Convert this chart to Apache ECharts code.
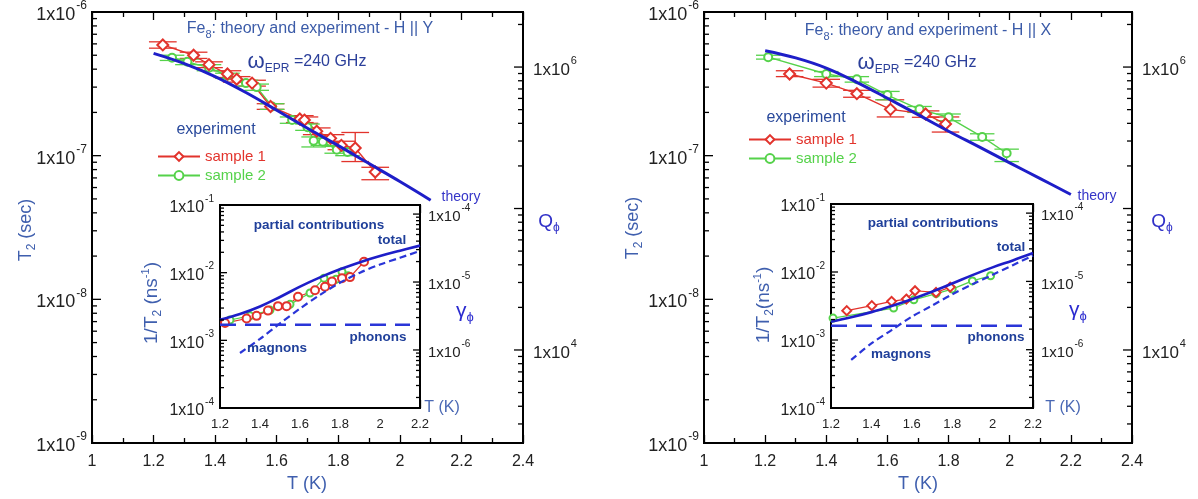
<!DOCTYPE html>
<html><head><meta charset="utf-8">
<script src="https://cdn.jsdelivr.net/npm/echarts@6/dist/echarts.min.js"></script>
<style>html,body{margin:0;padding:0;background:#fff}#c{width:1198px;height:499px}</style>
</head><body><div id="c"></div>
<script>
// ================= DATA =================
// ---- Left panel: H || Y ----
const Y_theoryT  = [1.2, 1.3, 1.4, 1.5, 1.6, 1.7, 1.8, 1.9, 2.0, 2.1];
const Y_theoryT2 = [5.15e-7, 4.37e-7, 3.55e-7, 2.75e-7, 2.07e-7, 1.55e-7, 1.175e-7, 8.81e-8, 6.61e-8, 4.9e-8];
const Y_s1T  = [1.23, 1.33, 1.38, 1.44, 1.47, 1.52, 1.58, 1.675, 1.69, 1.73, 1.775, 1.81, 1.855, 1.92];
const Y_s1V  = [5.9e-7, 5.0e-7, 4.3e-7, 3.7e-7, 3.4e-7, 3.2e-7, 2.2e-7, 1.8e-7, 1.77e-7, 1.48e-7, 1.32e-7, 1.18e-7, 1.13e-7, 7.7e-8];
const Y_s1Lo = [5.6e-7, 4.75e-7, 4.1e-7, 3.5e-7, 3.25e-7, 3.05e-7, 2.1e-7, 1.7e-7, 1.68e-7, 1.4e-7, 1.25e-7, 1.1e-7, 9.1e-8, 6.8e-8];
const Y_s1Hi = [6.2e-7, 5.25e-7, 4.5e-7, 3.9e-7, 3.55e-7, 3.35e-7, 2.3e-7, 1.9e-7, 1.86e-7, 1.56e-7, 1.4e-7, 1.26e-7, 1.45e-7, 8.3e-8];
const Y_s2T  = [1.26, 1.31, 1.38, 1.44, 1.50, 1.535, 1.585, 1.65, 1.70, 1.72, 1.75, 1.795, 1.83];
const Y_s2V  = [4.8e-7, 4.5e-7, 4.1e-7, 3.6e-7, 3.2e-7, 3.0e-7, 2.2e-7, 1.77e-7, 1.58e-7, 1.27e-7, 1.25e-7, 1.1e-7, 1.06e-7];
const Y_s2Lo = [4.6e-7, 4.3e-7, 3.9e-7, 3.45e-7, 3.05e-7, 2.85e-7, 2.1e-7, 1.68e-7, 1.5e-7, 1.15e-7, 1.18e-7, 1.04e-7, 1.0e-7];
const Y_s2Hi = [5.0e-7, 4.7e-7, 4.3e-7, 3.75e-7, 3.35e-7, 3.15e-7, 2.3e-7, 1.86e-7, 1.66e-7, 1.35e-7, 1.32e-7, 1.16e-7, 1.12e-7];
// inset (1/T2 in ns^-1)
const Y_inT      = [1.2, 1.3, 1.4, 1.5, 1.6, 1.7, 1.8, 1.9, 2.0, 2.1, 2.2];
const Y_total    = [2.02e-3, 2.45e-3, 3.16e-3, 4.37e-3, 6.21e-3, 8.51e-3, 1.12e-2, 1.43e-2, 1.76e-2, 2.11e-2, 2.51e-2];
const Y_phonT    = [1.2, 2.15];
const Y_phon     = [1.7e-3, 1.7e-3];
const Y_magT     = [1.3, 1.4, 1.5, 1.6, 1.7, 1.8, 1.9, 2.0, 2.1, 2.2];
const Y_mag      = [6.5e-4, 1.05e-3, 1.78e-3, 2.95e-3, 4.7e-3, 7.1e-3, 1.0e-2, 1.32e-2, 1.66e-2, 2.09e-2];
const Y_in1T     = [1.225, 1.333, 1.383, 1.44, 1.49, 1.533, 1.59, 1.675, 1.725, 1.76, 1.81, 1.85, 1.92];
const Y_in1V     = [1.8e-3, 2.1e-3, 2.3e-3, 2.75e-3, 3.2e-3, 3.2e-3, 4.4e-3, 5.5e-3, 6.2e-3, 7.4e-3, 8.3e-3, 8.6e-3, 1.45e-2];
const Y_in2T     = [1.25, 1.35, 1.45, 1.55, 1.65, 1.72, 1.78, 1.81, 1.84];
const Y_in2V     = [2.0e-3, 2.3e-3, 2.8e-3, 3.4e-3, 5.0e-3, 8.3e-3, 8.0e-3, 1.03e-2, 9.0e-3];

// ---- Right panel: H || X ----
const X_theoryT  = [1.2, 1.3, 1.4, 1.5, 1.6, 1.7, 1.8, 1.9, 2.0, 2.1, 2.2];
const X_theoryT2 = [5.37e-7, 4.79e-7, 4.07e-7, 3.24e-7, 2.51e-7, 1.93e-7, 1.48e-7, 1.15e-7, 8.91e-8, 6.92e-8, 5.37e-8];
const X_s1T  = [1.28, 1.40, 1.50, 1.61, 1.725, 1.79];
const X_s1V  = [3.7e-7, 3.2e-7, 2.7e-7, 2.1e-7, 1.95e-7, 1.66e-7];
const X_s1Lo = [3.55e-7, 3.0e-7, 2.55e-7, 1.86e-7, 1.85e-7, 1.46e-7];
const X_s1Hi = [3.9e-7, 3.4e-7, 2.85e-7, 2.45e-7, 2.05e-7, 1.86e-7];
const X_s2T  = [1.21, 1.40, 1.50, 1.60, 1.705, 1.80, 1.91, 1.99];
const X_s2V  = [4.85e-7, 3.7e-7, 3.4e-7, 2.64e-7, 2.1e-7, 1.85e-7, 1.35e-7, 1.04e-7];
const X_s2Lo = [4.7e-7, 3.55e-7, 3.25e-7, 2.45e-7, 2.0e-7, 1.75e-7, 1.28e-7, 9.1e-8];
const X_s2Hi = [5.0e-7, 3.85e-7, 3.55e-7, 2.8e-7, 2.2e-7, 1.95e-7, 1.42e-7, 1.11e-7];
const X_inT      = [1.2, 1.3, 1.4, 1.5, 1.6, 1.7, 1.8, 1.9, 2.0, 2.1, 2.2];
const X_total    = [1.86e-3, 2.16e-3, 2.57e-3, 3.16e-3, 3.98e-3, 5.13e-3, 6.76e-3, 9.0e-3, 1.17e-2, 1.48e-2, 1.9e-2];
const X_phonT    = [1.2, 2.15];
const X_phon     = [1.62e-3, 1.62e-3];
const X_magT     = [1.3, 1.4, 1.5, 1.6, 1.7, 1.8, 1.9, 2.0, 2.1, 2.2];
const X_mag      = [5.1e-4, 8.9e-4, 1.4e-3, 2.2e-3, 3.2e-3, 4.7e-3, 6.6e-3, 9.1e-3, 1.26e-2, 1.74e-2];
const X_in1T     = [1.278, 1.402, 1.50, 1.573, 1.616, 1.72, 1.79];
const X_in1V     = [2.7e-3, 3.2e-3, 3.7e-3, 4.0e-3, 5.3e-3, 5.0e-3, 6.0e-3];
const X_in2T     = [1.21, 1.51, 1.61, 1.72, 1.80, 1.90, 1.99];
const X_in2V     = [2.1e-3, 2.95e-3, 3.9e-3, 4.8e-3, 5.6e-3, 7.4e-3, 8.8e-3];

// axis ranges and labelled decades
const T_main = [1, 2.4], T_inset = [1.2, 2.2];
const T2_range = [1e-9, 1e-6];
const Q_range = [2.2e3, 2.45e6];
const Q_labelExps = [4, 6];
const invT2_range = [1e-4, 1e-1];
const gamma_range = [1.4e-7, 1.36e-4];

// ================= BUILD =================
const F = 'Liberation Sans, Arial, Helvetica, sans-serif';
const RED = '#e2332c', GREEN = '#55d24a', BLUE = '#1e1ec8';
const zip = (a, b) => a.map((v, i) => [v, b[i]]);
const zip3 = (a, b, c) => a.map((v, i) => [v, b[i], c[i]]);

function makePowFmt(only) {
  return function (v) {
    const e = Math.log10(v), r = Math.round(e);
    if (Math.abs(e - r) > 1e-6) return '';
    if (only && only.indexOf(r) < 0) return '';
    return '{b|1x10}{s|' + r + '}';
  };
}
function powRich(fs) {
  return { b: { fontSize: fs, fontFamily: F, color: '#222', lineHeight: fs + 6, verticalAlign: 'bottom' },
           s: { fontSize: Math.round(fs * 0.64), fontFamily: F, color: '#222', lineHeight: fs + 6, verticalAlign: 'top', padding: [0, 0, 0, 1] } };
}
const tickStyle = { color: '#000', width: 1.3 };

function xAx(grid, range, pos, showLabel, fs, margin) {
  return { type: 'value', gridIndex: grid, position: pos, min: range[0], max: range[1], interval: 0.2,
    axisLine: { show: false }, splitLine: { show: false },
    axisTick: { inside: true, length: 8, lineStyle: tickStyle },
    minorTick: { show: true, splitNumber: 2, length: 5, lineStyle: tickStyle },
    axisLabel: { show: showLabel, fontSize: fs, fontFamily: F, color: '#222', margin: margin } };
}
function yAx(grid, range, pos, fs, margin, only) {
  return { type: 'log', logBase: 10, gridIndex: grid, position: pos, min: range[0], max: range[1],
    axisLine: { show: false }, splitLine: { show: false }, axisTick: { show: false },
    axisLabel: { fontSize: fs, margin: margin, formatter: makePowFmt(only), rich: powRich(fs) } };
}
function tickSeries(xi, yi, xEdge, dir, lo, hi, big, small) {
  return { type: 'custom', xAxisIndex: xi, yAxisIndex: yi, silent: true, z: 6, clip: false,
    data: [[xEdge, Math.sqrt(lo * hi)]],
    renderItem: function (params, api) {
      const ch = [];
      for (let d = Math.floor(Math.log10(lo)); d <= Math.ceil(Math.log10(hi)); d++) {
        for (let m = 1; m <= 9; m++) {
          const v = m * Math.pow(10, d);
          if (v < lo * 0.999 || v > hi * 1.001) continue;
          const p = api.coord([xEdge, v]);
          const L = m === 1 ? big : small;
          ch.push({ type: 'line', shape: { x1: p[0], y1: p[1], x2: p[0] + dir * L, y2: p[1] },
                    style: { stroke: '#000', lineWidth: 1.3 } });
        }
      }
      return { type: 'group', children: ch };
    } };
}
function errSeries(xi, yi, data, color, halfW) {
  return { type: 'custom', xAxisIndex: xi, yAxisIndex: yi, silent: true, z: 3,
    data: data, encode: { x: 0, y: [1, 2] },
    renderItem: function (params, api) {
      const T = api.value(0), lo = api.value(1), hi = api.value(2);
      const a = api.coord([T, lo]), b = api.coord([T, hi]);
      const l = api.coord([T - halfW, lo])[0], r = api.coord([T + halfW, lo])[0];
      const st = { stroke: color, lineWidth: 1.3 };
      return { type: 'group', children: [
        { type: 'line', shape: { x1: a[0], y1: a[1], x2: b[0], y2: b[1] }, style: st },
        { type: 'line', shape: { x1: l, y1: a[1], x2: r, y2: a[1] }, style: st },
        { type: 'line', shape: { x1: l, y1: b[1], x2: r, y2: b[1] }, style: st } ] };
    } };
}

const grids = [], xAxes = [], yAxes = [], series = [], graphics = [], legends = [];

function panel(P) {
  const g0 = grids.length;
  grids.push({ left: P.main[0], top: P.main[1], width: P.main[2], height: P.main[3], show: true, borderColor: '#000', borderWidth: 2, backgroundColor: 'transparent' });
  grids.push({ left: P.ins[0], top: P.ins[1], width: P.ins[2], height: P.ins[3], show: true, borderColor: '#000', borderWidth: 2, backgroundColor: '#fff', z: 1 });
  const x0 = xAxes.length;
  xAxes.push(xAx(g0, T_main, 'bottom', true, 16, 11));
  xAxes.push(xAx(g0, T_main, 'top', false, 16, 11));
  xAxes.push(xAx(g0 + 1, T_inset, 'bottom', true, 13, 10));
  xAxes.push(xAx(g0 + 1, T_inset, 'top', false, 13, 10));
  const y0 = yAxes.length;
  yAxes.push(yAx(g0, T2_range, 'left', 18, 5));
  yAxes.push(yAx(g0, Q_range, 'right', 17, 10, Q_labelExps));
  yAxes.push(yAx(g0 + 1, invT2_range, 'left', 16, 6));
  yAxes.push(yAx(g0 + 1, gamma_range, 'right', 15, 8));

  series.push(tickSeries(x0, y0, T_main[0], 1, T2_range[0], T2_range[1], 9, 5));
  series.push(tickSeries(x0, y0 + 1, T_main[1], -1, Q_range[0], Q_range[1], 9, 5));
  series.push(tickSeries(x0 + 2, y0 + 2, T_inset[0], 1, invT2_range[0], invT2_range[1], 7, 4));
  series.push(tickSeries(x0 + 2, y0 + 3, T_inset[1], -1, gamma_range[0], gamma_range[1], 7, 4));

  // main
  series.push(errSeries(x0, y0, zip3(P.s1T, P.s1Lo, P.s1Hi), RED, 0.045));
  series.push(errSeries(x0, y0, zip3(P.s2T, P.s2Lo, P.s2Hi), GREEN, 0.04));
  series.push({ name: 'sample 2', type: 'line', xAxisIndex: x0, yAxisIndex: y0, data: zip(P.s2T, P.s2V),
    symbol: 'emptyCircle', symbolSize: 8, lineStyle: { color: GREEN, width: 1.4 }, itemStyle: { color: GREEN, borderWidth: 1.3 }, z: 3 });
  series.push({ name: 'sample 1', type: 'line', xAxisIndex: x0, yAxisIndex: y0, data: zip(P.s1T, P.s1V),
    symbol: 'emptyDiamond', symbolSize: 11, lineStyle: { color: RED, width: 1.4 }, itemStyle: { color: RED, borderWidth: 1.3 }, z: 3 });
  series.push({ name: 'theory', type: 'line', xAxisIndex: x0, yAxisIndex: y0, data: zip(P.thT, P.thV),
    symbol: 'none', smooth: 0.4, lineStyle: { color: BLUE, width: 3 }, z: 4 });

  // inset
  series.push({ name: 'in2', type: 'line', xAxisIndex: x0 + 2, yAxisIndex: y0 + 2, data: zip(P.in2T, P.in2V),
    symbol: 'emptyCircle', symbolSize: 7, lineStyle: { color: GREEN, width: 1.2 }, itemStyle: { color: GREEN, borderWidth: 1.1 }, z: 3 });
  series.push({ name: 'in1', type: 'line', xAxisIndex: x0 + 2, yAxisIndex: y0 + 2, data: zip(P.in1T, P.in1V),
    symbol: P.in1Sym, symbolSize: P.in1Sym === 'emptyDiamond' ? 9 : 8, lineStyle: { color: RED, width: 1.2 }, itemStyle: { color: RED, borderWidth: 1.1 }, z: 3 });
  series.push({ name: 'phonons', type: 'line', xAxisIndex: x0 + 2, yAxisIndex: y0 + 2, data: zip(P.phT, P.ph),
    symbol: 'none', lineStyle: { color: '#2a35d8', width: 2.6, type: [16, 9] }, z: 4 });
  series.push({ name: 'magnons', type: 'line', xAxisIndex: x0 + 2, yAxisIndex: y0 + 2, data: zip(P.mgT, P.mg),
    symbol: 'none', smooth: 0.3, lineStyle: { color: '#2a35d8', width: 2.2, type: [7, 4] }, z: 4 });
  series.push({ name: 'total', type: 'line', xAxisIndex: x0 + 2, yAxisIndex: y0 + 2, data: zip(P.inT, P.tot),
    symbol: 'none', smooth: 0.4, lineStyle: { color: BLUE, width: 2.6 }, z: 5 });

  legends.push({ data: [{ name: 'sample 1', textStyle: { color: RED } }, { name: 'sample 2', textStyle: { color: GREEN } }],
    orient: 'vertical', left: P.leg[0], top: P.leg[1], itemWidth: 42, itemHeight: 11, itemGap: 4, selectedMode: false,
    textStyle: { fontSize: 15, fontFamily: F } });

  // texts
  const A = P.txt;
  const t = (x, y, text, rich, extra) => graphics.push(Object.assign({ type: 'text', x: x, y: y, z: 100,
    style: { text: text, rich: rich, align: 'center', verticalAlign: 'middle' } }, extra || {}));
  const blue1 = '#3b5ba8', blue2 = '#2a4a9c', blueB = '#1f3f9a';
  const st = (fs, col, extra) => Object.assign({ fontSize: fs, fontFamily: F, fill: col }, extra || {});
  t(A.title[0], A.title[1], '{a|Fe}{s|8}{a|: theory and experiment - H || ' + P.dir + '}',
    { a: st(16, blue1, { lineHeight: 22, verticalAlign: 'middle' }), s: st(11, blue1, { lineHeight: 22, verticalAlign: 'bottom' }) });
  t(A.omega[0], A.omega[1], '{w|ω}{s|EPR}{a| =240 GHz}',
    { w: st(22, '#2b3f9a', { lineHeight: 25, verticalAlign: 'middle' }),
      s: st(12, '#2b3f9a', { lineHeight: 25, verticalAlign: 'bottom' }),
      a: st(16, '#2b3f9a', { lineHeight: 25, verticalAlign: 'middle' }) });
  t(A.exp[0], A.exp[1], '{a|experiment}', { a: st(16, blue2) });
  t(A.theory[0], A.theory[1], '{a|theory}', { a: st(14, '#3535c8') });
  t(A.t2[0], A.t2[1], '{a|T}{s|2}{a| (sec)}',
    { a: st(18, '#3f5fae', { lineHeight: 24, verticalAlign: 'middle' }), s: st(12, '#3f5fae', { lineHeight: 24, verticalAlign: 'bottom' }) },
    { rotation: Math.PI / 2 });
  t(A.q[0], A.q[1], '{a|Q}{s|ϕ}',
    { a: st(19, '#3030c8', { lineHeight: 24, verticalAlign: 'middle' }), s: st(12, '#3030c8', { lineHeight: 24, verticalAlign: 'bottom' }) });
  t(A.tk[0], A.tk[1], '{a|T (K)}', { a: st(18, '#3f5fae') });
  const bold = { fontWeight: 'bold' };
  t(A.partial[0], A.partial[1], '{a|partial contributions}', { a: st(13.5, blueB, bold) });
  t(A.total[0], A.total[1], '{a|total}', { a: st(13.5, blueB, bold) });
  t(A.phon[0], A.phon[1], '{a|phonons}', { a: st(13.5, blueB, bold) });
  t(A.mag[0], A.mag[1], '{a|magnons}', { a: st(13.5, blueB, bold) });
  t(A.invT2[0], A.invT2[1], '{a|1/T}{s|2}{a|' + P.nsGap + '(ns}{p|-1}{a|)}',
    { a: st(19, '#3f5fae', { lineHeight: 24, verticalAlign: 'middle' }),
      s: st(12, '#3f5fae', { lineHeight: 24, verticalAlign: 'bottom' }),
      p: st(11, '#3f5fae', { lineHeight: 24, verticalAlign: 'top' }) }, { rotation: Math.PI / 2 });
  t(A.gam[0], A.gam[1], '{a|γ}{s|ϕ}',
    { a: st(21, '#2a2acf', { lineHeight: 26, verticalAlign: 'middle' }), s: st(13, '#2a2acf', { lineHeight: 26, verticalAlign: 'bottom' }) });
  t(A.tki[0], A.tki[1], '{a|T (K)}', { a: st(16, '#4a68b4') });
}

panel({ dir: 'Y', main: [92, 12, 431, 431], ins: [220, 205, 200, 203], leg: [152, 144], nsGap: ' ', in1Sym: 'emptyCircle',
  thT: Y_theoryT, thV: Y_theoryT2, s1T: Y_s1T, s1V: Y_s1V, s1Lo: Y_s1Lo, s1Hi: Y_s1Hi,
  s2T: Y_s2T, s2V: Y_s2V, s2Lo: Y_s2Lo, s2Hi: Y_s2Hi,
  inT: Y_inT, tot: Y_total, phT: Y_phonT, ph: Y_phon, mgT: Y_magT, mg: Y_mag,
  in1T: Y_in1T, in1V: Y_in1V, in2T: Y_in2T, in2V: Y_in2V,
  txt: { title: [310, 29], omega: [307, 62], exp: [216, 130], theory: [461, 197], t2: [26, 230], q: [549, 222],
         tk: [307, 484], partial: [319, 225], total: [392, 240], phon: [378, 337], mag: [277, 348],
         invT2: [152, 303], gam: [465, 311], tki: [442, 408] } });
panel({ dir: 'X', main: [704, 12, 428, 431], ins: [831, 204, 202, 204], leg: [743, 127], nsGap: '', in1Sym: 'emptyDiamond',
  thT: X_theoryT, thV: X_theoryT2, s1T: X_s1T, s1V: X_s1V, s1Lo: X_s1Lo, s1Hi: X_s1Hi,
  s2T: X_s2T, s2V: X_s2V, s2Lo: X_s2Lo, s2Hi: X_s2Hi,
  inT: X_inT, tot: X_total, phT: X_phonT, ph: X_phon, mgT: X_magT, mg: X_mag,
  in1T: X_in1T, in1V: X_in1V, in2T: X_in2T, in2V: X_in2V,
  txt: { title: [928, 31], omega: [917, 63], exp: [806, 118], theory: [1097, 196], t2: [633, 228], q: [1162, 222],
         tk: [918, 484], partial: [933, 223], total: [1011, 247], phon: [996, 337], mag: [901, 354],
         invT2: [764, 305], gam: [1078, 310], tki: [1063, 408] } });

const chart = echarts.init(document.getElementById('c'), null, { renderer: 'canvas' });
chart.setOption({ animation: false, backgroundColor: '#fff', grid: grids, xAxis: xAxes, yAxis: yAxes,
  series: series, legend: legends, graphic: graphics });
</script></body></html>
